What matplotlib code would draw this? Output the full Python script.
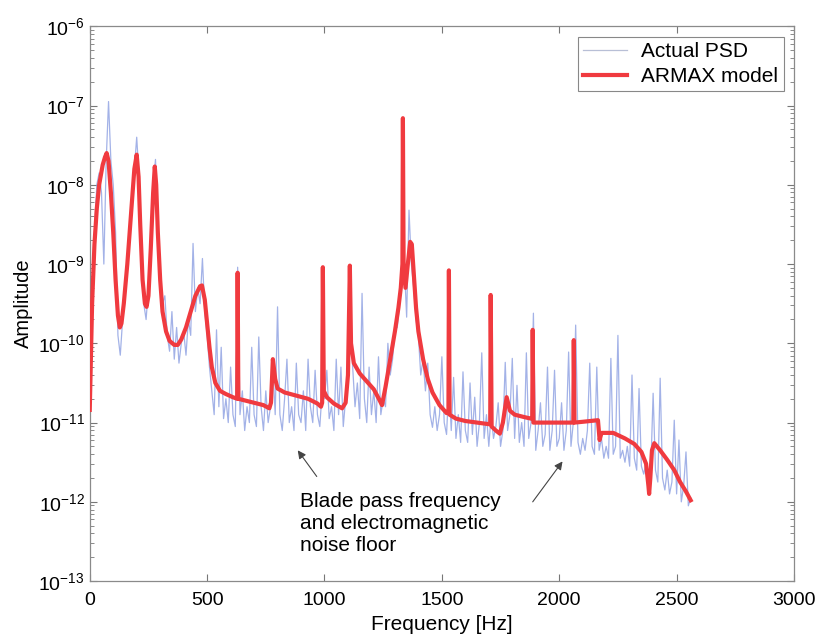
import matplotlib
matplotlib.use("Agg")
import matplotlib.pyplot as plt
import numpy as np

plt.rcParams["font.family"] = ["Liberation Sans", "DejaVu Sans"]
plt.rcParams["mathtext.fontset"] = "custom"
plt.rcParams["mathtext.rm"] = "Liberation Sans"
plt.rcParams["mathtext.it"] = "Liberation Sans:italic"

# ARMAX model: frequency [Hz] and log10(amplitude)
armax_freq = [
    0, 5, 10, 20, 30, 40, 55, 65, 72, 80, 90, 100, 110, 120, 128, 135, 145, 160,
    175, 190, 200, 208, 215, 225, 235, 242, 250, 260, 270, 277, 283, 290, 300,
    310, 325, 340, 360, 375, 390, 410, 430, 450, 470, 478, 490, 500, 510, 520,
    535, 555, 580, 610, 628, 630, 633, 660, 700, 740, 765, 772, 780, 790, 800,
    830, 880, 930, 970, 985, 990, 993, 997, 1010, 1040, 1075, 1090, 1100, 1108,
    1113, 1125, 1150, 1180, 1210, 1235, 1245, 1260, 1280, 1300, 1315, 1325,
    1332, 1334, 1337, 1345, 1355, 1365, 1372, 1380, 1390, 1400, 1420, 1440,
    1460, 1490, 1520, 1528, 1530, 1533, 1560, 1600, 1650, 1700, 1706, 1708,
    1712, 1730, 1747, 1760, 1776, 1790, 1810, 1850, 1880, 1885, 1887, 1890,
    1920, 2000, 2060, 2062, 2065, 2100, 2165, 2172, 2180, 2230, 2280, 2320,
    2350, 2370, 2380, 2383, 2388, 2395, 2405, 2430, 2460, 2490, 2515, 2540, 2560,
]
armax_log = [
    -10.84, -10.2, -9.5, -8.75, -8.3, -8.0, -7.75, -7.65, -7.6, -7.7, -8.1,
    -8.6, -9.2, -9.65, -9.8, -9.75, -9.5, -9.0, -8.4, -7.8, -7.62, -7.9, -8.5,
    -9.2, -9.5, -9.54, -9.4, -8.8, -8.1, -7.77, -8.0, -8.6, -9.2, -9.6, -9.85,
    -9.97, -10.02, -10.02, -9.95, -9.8, -9.6, -9.4, -9.28, -9.27, -9.45, -9.75,
    -10.05, -10.3, -10.5, -10.6, -10.64, -10.68, -10.7, -9.11, -10.7, -10.72,
    -10.75, -10.78, -10.82, -10.75, -10.2, -10.45, -10.57, -10.62, -10.66,
    -10.7, -10.76, -10.8, -10.75, -9.04, -10.6, -10.68, -10.76, -10.82, -10.75,
    -10.4, -9.02, -10.0, -10.25, -10.38, -10.48, -10.58, -10.72, -10.78,
    -10.55, -10.2, -9.85, -9.55, -9.3, -9.0, -7.16, -9.0, -9.3, -9.0, -8.72,
    -8.75, -9.1, -9.55, -9.85, -10.2, -10.45, -10.62, -10.78, -10.88, -10.88,
    -9.08, -10.9, -10.95, -10.98, -11.0, -11.02, -11.02, -9.39, -11.05, -11.1,
    -11.14, -11.0, -10.68, -10.85, -10.9, -10.93, -10.95, -10.95, -9.83, -11.0,
    -11.0, -11.0, -11.0, -9.96, -11.0, -10.99, -10.97, -11.22, -11.13, -11.13,
    -11.2, -11.27, -11.37, -11.52, -11.8, -11.9, -11.7, -11.35, -11.26, -11.35,
    -11.47, -11.6, -11.75, -11.87, -11.98,
]

# Actual PSD on a 10 Hz grid, log10(amplitude)
psd_freq = np.arange(0, 2570, 10)
psd_log = [
    -10.9, -9.4, -8.6, -8.0, -7.85, -8.1, -9.0, -7.7, -6.95, -7.7,      # 0-90
    -8.0, -8.6, -9.9, -10.15, -9.7, -9.4, -9.1, -8.5, -8.2, -7.8,       # 100-190
    -7.4, -7.9, -8.7, -9.5, -9.7, -9.3, -8.9, -8.0, -7.68, -8.5,        # 200-290
    -9.1, -9.5, -9.4, -9.9, -10.1, -9.6, -10.2, -9.8, -10.25, -10.0,    # 300-390
    -9.85, -10.15, -9.7, -9.9, -8.74, -9.6, -9.3, -9.5, -8.93, -9.6,    # 400-490
    -9.9, -10.3, -10.6, -10.9, -9.83, -10.8, -10.05, -10.95, -10.7, -11.0,  # 500-590
    -10.3, -10.9, -11.05, -9.04, -10.9, -10.6, -11.1, -10.8, -11.0, -10.05,  # 600-690
    -10.9, -11.05, -9.92, -10.8, -11.1, -10.6, -11.0, -10.8, -10.3, -10.9,   # 700-790
    -9.54, -10.9, -11.1, -10.7, -10.2, -11.0, -10.8, -11.1, -10.25, -10.9,   # 800-890
    -11.0, -10.6, -11.1, -10.2, -10.8, -11.0, -10.34, -10.9, -11.05, -10.6,  # 900-990
    -10.7, -10.34, -10.95, -10.8, -11.1, -10.2, -10.9, -10.3, -11.05, -10.7,  # 1000-1090
    -10.5, -9.6, -10.3, -10.8, -10.5, -10.95, -9.37, -10.7, -11.0, -10.3,    # 1100-1190
    -10.9, -10.6, -11.0, -10.17, -10.9, -10.7, -10.8, -10.0, -10.4, -10.2,   # 1200-1290
    -9.83, -9.8, -9.5, -9.2, -9.0, -9.67, -8.32, -9.0, -9.3, -9.7,           # 1300-1390
    -9.9, -10.4, -10.2, -10.6, -10.25, -10.9, -11.06, -10.8, -11.1, -10.9,   # 1400-1490
    -10.17, -11.0, -11.15, -10.5, -11.1, -10.43, -11.2, -10.9, -11.25, -10.36,  # 1500-1590
    -11.1, -11.25, -10.5, -11.15, -10.68, -11.3, -11.0, -10.12, -11.2, -10.9,   # 1600-1690
    -11.3, -10.9, -11.2, -11.05, -10.75, -11.3, -11.1, -10.24, -11.1, -10.9,    # 1700-1790
    -10.19, -11.2, -10.53, -11.25, -11.0, -11.3, -10.12, -11.2, -11.0, -9.62,   # 1800-1890
    -11.35, -11.1, -10.75, -11.3, -11.15, -10.3, -11.35, -11.1, -10.34, -11.3,  # 1900-1990
    -11.2, -10.75, -11.35, -11.1, -10.11, -11.3, -11.0, -9.77, -11.25, -11.4,   # 2000-2090
    -11.2, -11.35, -11.1, -10.25, -11.3, -11.4, -10.3, -11.35, -11.2, -11.45,   # 2100-2190
    -11.3, -11.45, -10.19, -11.4, -11.3, -9.9, -11.45, -11.35, -11.5, -11.3,    # 2200-2290
    -11.55, -10.4, -11.45, -11.6, -10.57, -11.55, -11.65, -11.5, -11.7, -11.6,  # 2300-2390
    -10.63, -11.6, -11.75, -10.44, -11.7, -11.85, -11.6, -11.9, -11.75, -10.97, # 2400-2490
    -11.9, -11.22, -12.0, -11.8, -11.37, -12.05, -11.95,                        # 2500-2560
]

legend_labels = ["Actual PSD", "ARMAX model"]
note_text = "Blade pass frequency\nand electromagnetic\nnoise floor"

fig = plt.figure(figsize=(8.16, 6.4), dpi=100, facecolor="white")
ax = fig.add_axes([0.110, 0.092, 0.863, 0.867])

ax.plot(psd_freq, np.power(10.0, psd_log), color="#8c9fe2", lw=0.9, alpha=0.8,
        label=legend_labels[0], zorder=2)
ax.plot(armax_freq, np.power(10.0, armax_log), color="#f03a3f", lw=3.0,
        label=legend_labels[1], zorder=3, solid_joinstyle="round")

ax.set_yscale("log")
ax.set_xlim(0, 3000)
ax.set_ylim(1e-13, 1e-6)
ax.set_xticks([0, 500, 1000, 1500, 2000, 2500, 3000])
ax.set_yticks([10.0 ** k for k in range(-13, -5)])
ax.tick_params(which="both", direction="in", top=True, right=True,
               color="#777777", labelsize=14)
ax.tick_params(axis="x", pad=8)
ax.tick_params(which="major", length=5)
ax.tick_params(which="minor", length=3)
for sp in ax.spines.values():
    sp.set_color("#8a8a8a")
    sp.set_linewidth(0.9)

ax.set_xlabel("Frequency [Hz]", fontsize=15, labelpad=4)
ax.set_ylabel("Amplitude", fontsize=14.5, labelpad=4)

leg = ax.legend(loc="upper right", fontsize=15, fancybox=False,
                edgecolor="#888888", framealpha=1, borderaxespad=0.5,
                handlelength=2.1, handletextpad=0.7, borderpad=0.25,
                labelspacing=0.3)
leg.get_frame().set_linewidth(0.8)
leg.get_lines()[0].set_color("#b8bfd6")
leg.get_lines()[0].set_alpha(1)

ax.text(894, 10 ** -11.88, note_text, fontsize=15, va="top", ha="left",
        linespacing=1.2)
arrow_style = dict(arrowstyle="-|>", color="#444444", lw=0.8,
                   mutation_scale=12, shrinkA=0, shrinkB=0)
ax.annotate("", xy=(886, 10 ** -11.35), xytext=(967, 10 ** -11.68),
            arrowprops=arrow_style)
ax.annotate("", xy=(2014, 10 ** -11.49), xytext=(1887, 10 ** -12.0),
            arrowprops=arrow_style)

fig.savefig("out.png", dpi=100, facecolor="white")
